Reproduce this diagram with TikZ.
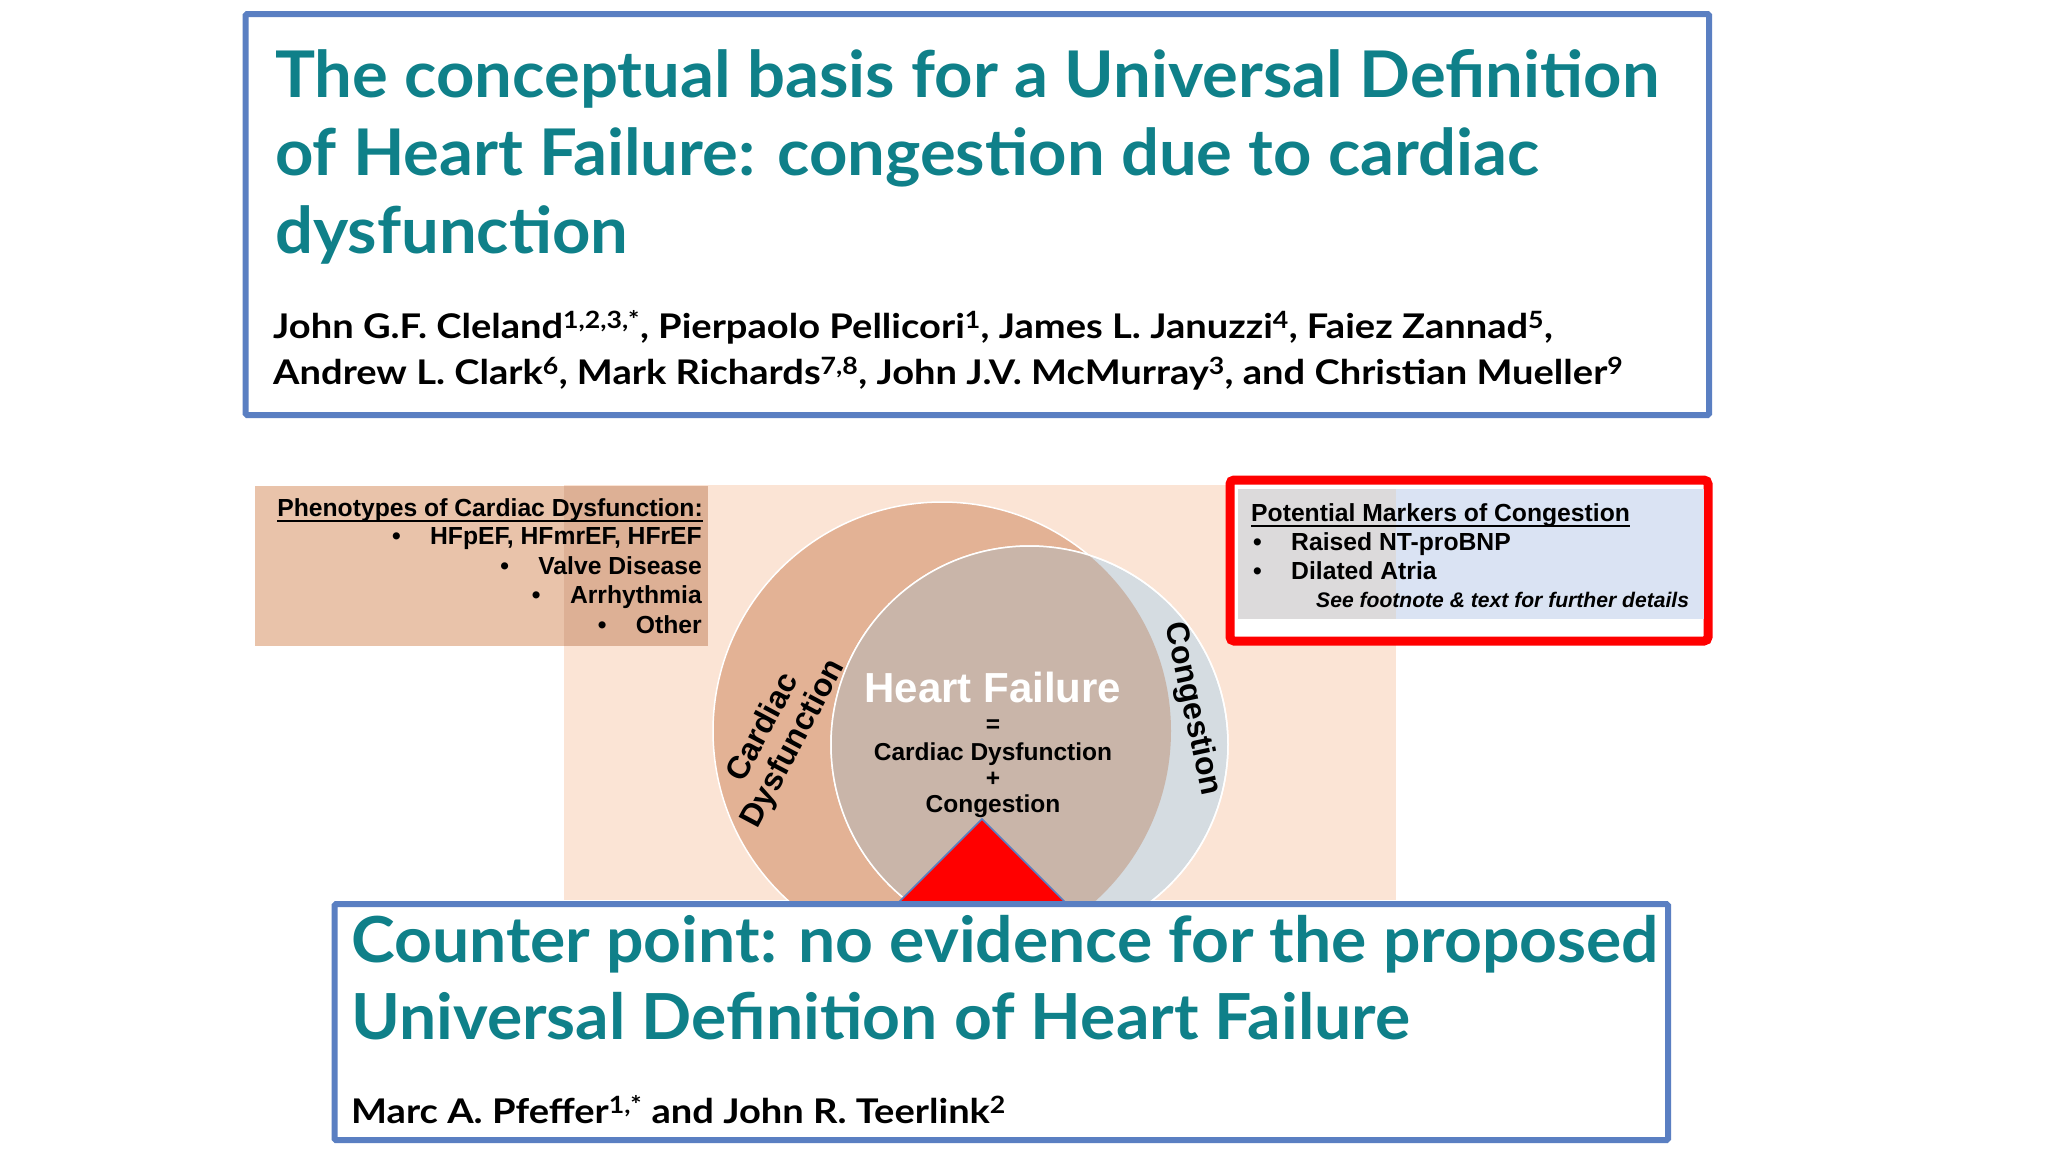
\documentclass[tikz,border=0pt]{standalone}
\usepackage{fontspec}
\setmainfont{Liberation Sans}
\newfontfamily\gillfont[FakeStretch=1.04]{Lato}
\newfontfamily\namefont[FakeStretch=1.12]{Lato}
\usepackage{tikz}
\usetikzlibrary{calc,positioning}
\definecolor{frame}{HTML}{5A7FC2}
\definecolor{titleteal}{HTML}{0F8089}
\definecolor{peach}{HTML}{FBE4D5}
\definecolor{tanbox}{HTML}{E9C3AA}
\definecolor{tandark}{HTML}{DDB095}
\definecolor{cardiac}{HTML}{E3B295}
\definecolor{congest}{HTML}{D5DCE1}
\definecolor{hfmix}{HTML}{C9B5A9}
\definecolor{markblue}{HTML}{DAE3F3}
\definecolor{markgrey}{HTML}{DCDADB}
\definecolor{alarm}{HTML}{FF0000}

\begin{document}
\begin{tikzpicture}[x=1pt,y=-1pt,
    paper/.style={draw=frame,line width=6pt,fill=white,rounded corners=1.5pt,inner sep=0pt},
    headline/.style={anchor=base west,inner sep=0pt,text=titleteal,font=\gillfont\bfseries\fontsize{#1}{78}\selectfont},
    headline/.default=64.4,
    byline/.style={anchor=base west,inner sep=0pt,font=\namefont\bfseries\fontsize{34}{40}\selectfont},
    listtext/.style={inner sep=0pt,font=\bfseries\fontsize{24.7}{30}\selectfont},
    vennlabel/.style={inner sep=0pt,align=center,font=\bfseries\fontsize{32}{34}\selectfont}]
  \useasboundingbox (0,0) rectangle (2048,1152);
  \fill[white] (0,0) rectangle (2048,1152);

  % first article
  \node[paper,minimum width=1463.5pt,minimum height=401pt] (toppaper) at (977.25,214.5) {};
  \node[headline] (t1) at (275,97) {The conceptual basis for a Universal Definition};
  \node[headline] (t2) at (275,175) {of Heart Failure: congestion due to cardiac};
  \node[headline] (t3) at (275,253) {dysfunction};
  \node[byline] (a1) at (273,338) {John G.F. Cleland\textsuperscript{1,2,3,*}, Pierpaolo Pellicori\textsuperscript{1}, James L. Januzzi\textsuperscript{4}, Faiez Zannad\textsuperscript{5},};
  \node[byline] (a2) at (273,384) {Andrew L. Clark\textsuperscript{6}, Mark Richards\textsuperscript{7,8}, John J.V. McMurray\textsuperscript{3}, and Christian Mueller\textsuperscript{9}};

  % figure panel
  \fill[peach] (564,485) rectangle (1396,900);
  \fill[tanbox] (255,486) rectangle (708,646);
  \fill[tandark] (564,486) rectangle (708,646);
  \node[listtext,anchor=base east] (pheno) at (703,516) {Phenotypes of Cardiac Dysfunction:};
  \draw[line width=2pt] ($(pheno.base west)+(0,5)$) -- ($(pheno.base east)+(0,5)$);
  \node[listtext,anchor=base east] (p1) at (702,544) {HFpEF, HFmrEF, HFrEF};
  \node[listtext,anchor=base east] (p2) at (702,574) {Valve Disease};
  \node[listtext,anchor=base east] (p3) at (702,603) {Arrhythmia};
  \node[listtext,anchor=base east] (p4) at (702,633) {Other};
  \foreach \n in {p1,p2,p3,p4}{\node[listtext,base left=29pt of \n] {•};}

  % venn
  \filldraw[fill=cardiac,draw=white,line width=1.5pt] (942,731) circle (229);
  \filldraw[fill=congest,draw=white,line width=1.5pt] (1029.5,744.5) circle (198.5);
  \begin{scope}
    \clip (942,731) circle (229);
    \fill[hfmix] (1029.5,744.5) circle (198.5);
  \end{scope}
  \draw[white,line width=1.5pt] (1029.5,744.5) circle (198.5);
  \node[vennlabel,rotate=62] (cd) at (779,736) {Cardiac\\Dysfunction};
  \node[vennlabel,rotate=-78] (cg) at (1192,709) {Congestion};
  \node[inner sep=0pt,anchor=base,text=white,font=\bfseries\fontsize{42}{44}\selectfont] (hf) at (993,702) {Heart Failure};
  \node[inner sep=0pt,anchor=base,font=\bfseries\fontsize{24.5}{26}\selectfont] (eq) at (993,732) {=};
  \node[inner sep=0pt,anchor=base,font=\bfseries\fontsize{24.5}{26}\selectfont] (hf1) at (993,760) {Cardiac Dysfunction};
  \node[inner sep=0pt,anchor=base,font=\bfseries\fontsize{24.5}{26}\selectfont] (pl) at (993,786) {+};
  \node[inner sep=0pt,anchor=base,font=\bfseries\fontsize{24.5}{26}\selectfont] (hf2) at (993,812) {Congestion};
  \filldraw[fill=alarm,draw=frame,line width=1.5pt] (982,819) -- (861,940) -- (1103,940) -- cycle;

  % markers box
  \filldraw[fill=white,draw=alarm,line width=9pt,rounded corners=4pt] (1230,480) rectangle (1708,641);
  \fill[markblue] (1238,489) rectangle (1704,619);
  \fill[markgrey] (1238,489) rectangle (1396,619);
  \node[listtext,anchor=base west] (mk) at (1251,521) {Potential Markers of Congestion};
  \draw[line width=2pt] ($(mk.base west)+(0,5)$) -- ($(mk.base east)+(0,5)$);
  \node[listtext,anchor=base west] (m1) at (1291,550) {Raised NT-proBNP};
  \node[listtext,anchor=base west] (m2) at (1291,579) {Dilated Atria};
  \foreach \n in {m1,m2}{\node[listtext,base left=29pt of \n] {•};}
  \node[inner sep=0pt,anchor=base west,font=\bfseries\itshape\fontsize{21.1}{24}\selectfont] (note) at (1316,607) {See footnote \& text for further details};

  % second article
  \node[paper,minimum width=1333.5pt,minimum height=236pt] (botpaper) at (1001.25,1022) {};
  \node[headline=63.5] (c1) at (351,962) {Counter point: no evidence for the proposed};
  \node[headline=63.5] (c2) at (351,1039) {Universal Definition of Heart Failure};
  \node[byline] (b1) at (351,1123) {Marc A. Pfeffer\textsuperscript{1,*} and John R. Teerlink\textsuperscript{2}};
\end{tikzpicture}
\end{document}
